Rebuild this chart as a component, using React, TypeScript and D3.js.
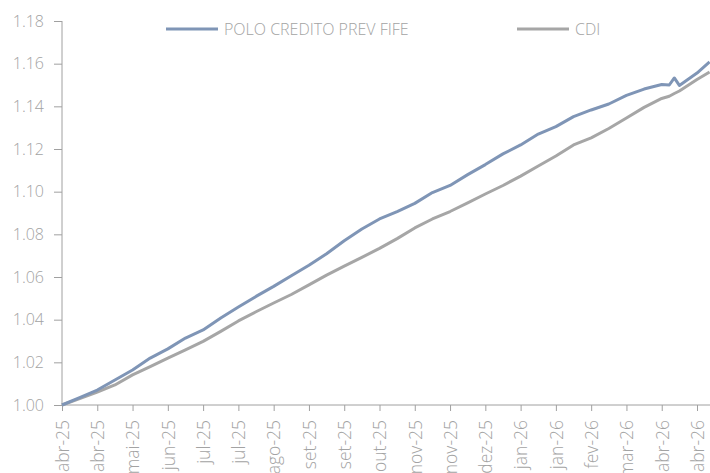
import React, { useEffect, useRef } from "react";
import * as d3 from "d3";

// eixo x: um rótulo a cada 14 dias úteis
const tickLabels = [
  "abr-25", "abr-25", "mai-25", "jun-25", "jul-25", "jul-25", "ago-25",
  "set-25", "set-25", "out-25", "nov-25", "nov-25", "dez-25", "jan-26",
  "jan-26", "fev-26", "mar-26", "abr-26", "abr-26",
];
const yTicks = [1.0, 1.02, 1.04, 1.06, 1.08, 1.1, 1.12, 1.14, 1.16, 1.18];

// dia útil de cada observação
const obsDay = [
  0, 7, 14, 21, 28, 35, 42, 49, 56, 63, 70, 77, 84, 91, 98, 105, 112, 119,
  126, 133, 140, 147, 154, 161, 168, 175, 182, 189, 196, 203, 210, 217, 224,
  231, 238, 241, 243, 245, 252, 257,
];

const polo = [
  1.0, 1.0035, 1.007, 1.0117, 1.0164, 1.022, 1.0263, 1.0314, 1.0352, 1.0408,
  1.0459, 1.0509, 1.0556, 1.0606, 1.0655, 1.0709, 1.077, 1.0825, 1.0872,
  1.0906, 1.0945, 1.0996, 1.1029, 1.108, 1.1127, 1.1177, 1.1219, 1.127,
  1.1305, 1.1352, 1.1383, 1.1411, 1.1451, 1.1481, 1.1502, 1.15, 1.1533,
  1.1498, 1.1556, 1.1608,
];

const cdi = [
  1.0, 1.003, 1.0061, 1.0094, 1.0141, 1.018, 1.022, 1.0258, 1.0298, 1.0345,
  1.0394, 1.0437, 1.0478, 1.0518, 1.0563, 1.0609, 1.0651, 1.0692, 1.0734,
  1.078, 1.083, 1.0872, 1.0907, 1.0947, 1.0989, 1.1029, 1.1073, 1.112,
  1.1167, 1.1219, 1.1252, 1.1296, 1.1345, 1.1395, 1.1437, 1.1447, 1.146,
  1.1472, 1.1526, 1.1561,
];

const series = [
  { name: "POLO CREDITO PREV FIFE", values: polo, color: "#7f95b6" },
  { name: "CDI", values: cdi, color: "#a6a6a6" },
];

const W = 710;
const H = 473;
const FONT = "'Open Sans', 'Noto Sans', sans-serif";
const TXT = "#a3a3a3";
const AXIS = "#a0a0a0";

const App: React.FC = () => {
  const ref = useRef<SVGSVGElement | null>(null);

  useEffect(() => {
    if (!ref.current) return;
    const svg = d3.select(ref.current);
    svg.selectAll("*").remove();

    const left = 62;
    const bottom = 405;
    const top = 21;

    const x = d3
      .scaleLinear()
      .domain([0, (tickLabels.length - 1) * 14])
      .range([left, 697]);
    const y = d3.scaleLinear().domain([1.0, 1.18]).range([bottom, top]);

    // eixo Y
    const yAxis = svg
      .append("g")
      .attr("transform", `translate(${left},0)`)
      .call(
        d3
          .axisLeft(y)
          .tickValues(yTicks)
          .tickSize(8)
          .tickPadding(10)
          .tickFormat((d) => d3.format(".2f")(d as number))
      );
    yAxis.select(".domain").attr("stroke", AXIS).attr("d", `M0,${top}V${bottom}`);
    yAxis.selectAll("line").attr("stroke", AXIS);
    yAxis
      .selectAll("text")
      .attr("fill", TXT)
      .attr("font-size", 16)
      .attr("font-weight", 300)
      .attr("font-family", FONT);

    // eixo X
    const xAxis = svg
      .append("g")
      .attr("transform", `translate(0,${bottom})`)
      .call(
        d3
          .axisBottom(x)
          .tickValues(tickLabels.map((_, i) => i * 14))
          .tickSize(6)
          .tickFormat((_, i) => tickLabels[i])
      );
    xAxis.select(".domain").attr("stroke", AXIS).attr("d", `M${left},0H${W}`);
    xAxis.selectAll("line").attr("stroke", AXIS);
    xAxis
      .selectAll("text")
      .attr("fill", TXT)
      .attr("font-size", 17.5)
      .attr("font-weight", 300)
      .attr("font-family", FONT)
      .attr("text-anchor", "end")
      .attr("transform", "rotate(-90)")
      .attr("x", -15)
      .attr("y", 0)
      .attr("dy", "0.36em");

    // linhas
    const line = d3
      .line<number>()
      .x((_, i) => x(obsDay[i]))
      .y((d) => y(d));

    svg
      .append("g")
      .selectAll("path")
      .data([...series].reverse())
      .join("path")
      .attr("d", (s) => line(s.values))
      .attr("fill", "none")
      .attr("stroke", (s) => s.color)
      .attr("stroke-width", 3)
      .attr("stroke-linejoin", "round");

    // legenda
    const legendX = [166, 517];
    series.forEach((s, i) => {
      const g = svg.append("g").attr("transform", `translate(${legendX[i]},29)`);
      g.append("line")
        .attr("x1", 0)
        .attr("x2", 52)
        .attr("stroke", s.color)
        .attr("stroke-width", 3);
      g.append("text")
        .attr("x", 58)
        .attr("dy", "0.35em")
        .attr("fill", TXT)
        .attr("font-size", 16)
        .attr("font-weight", 300)
        .attr("font-family", FONT)
        .text(s.name);
    });
  }, []);

  return (
    <svg
      ref={ref}
      width={W}
      height={H}
      style={{ position: "absolute", left: 0, top: 0, background: "#fff" }}
    />
  );
};

export default App;
